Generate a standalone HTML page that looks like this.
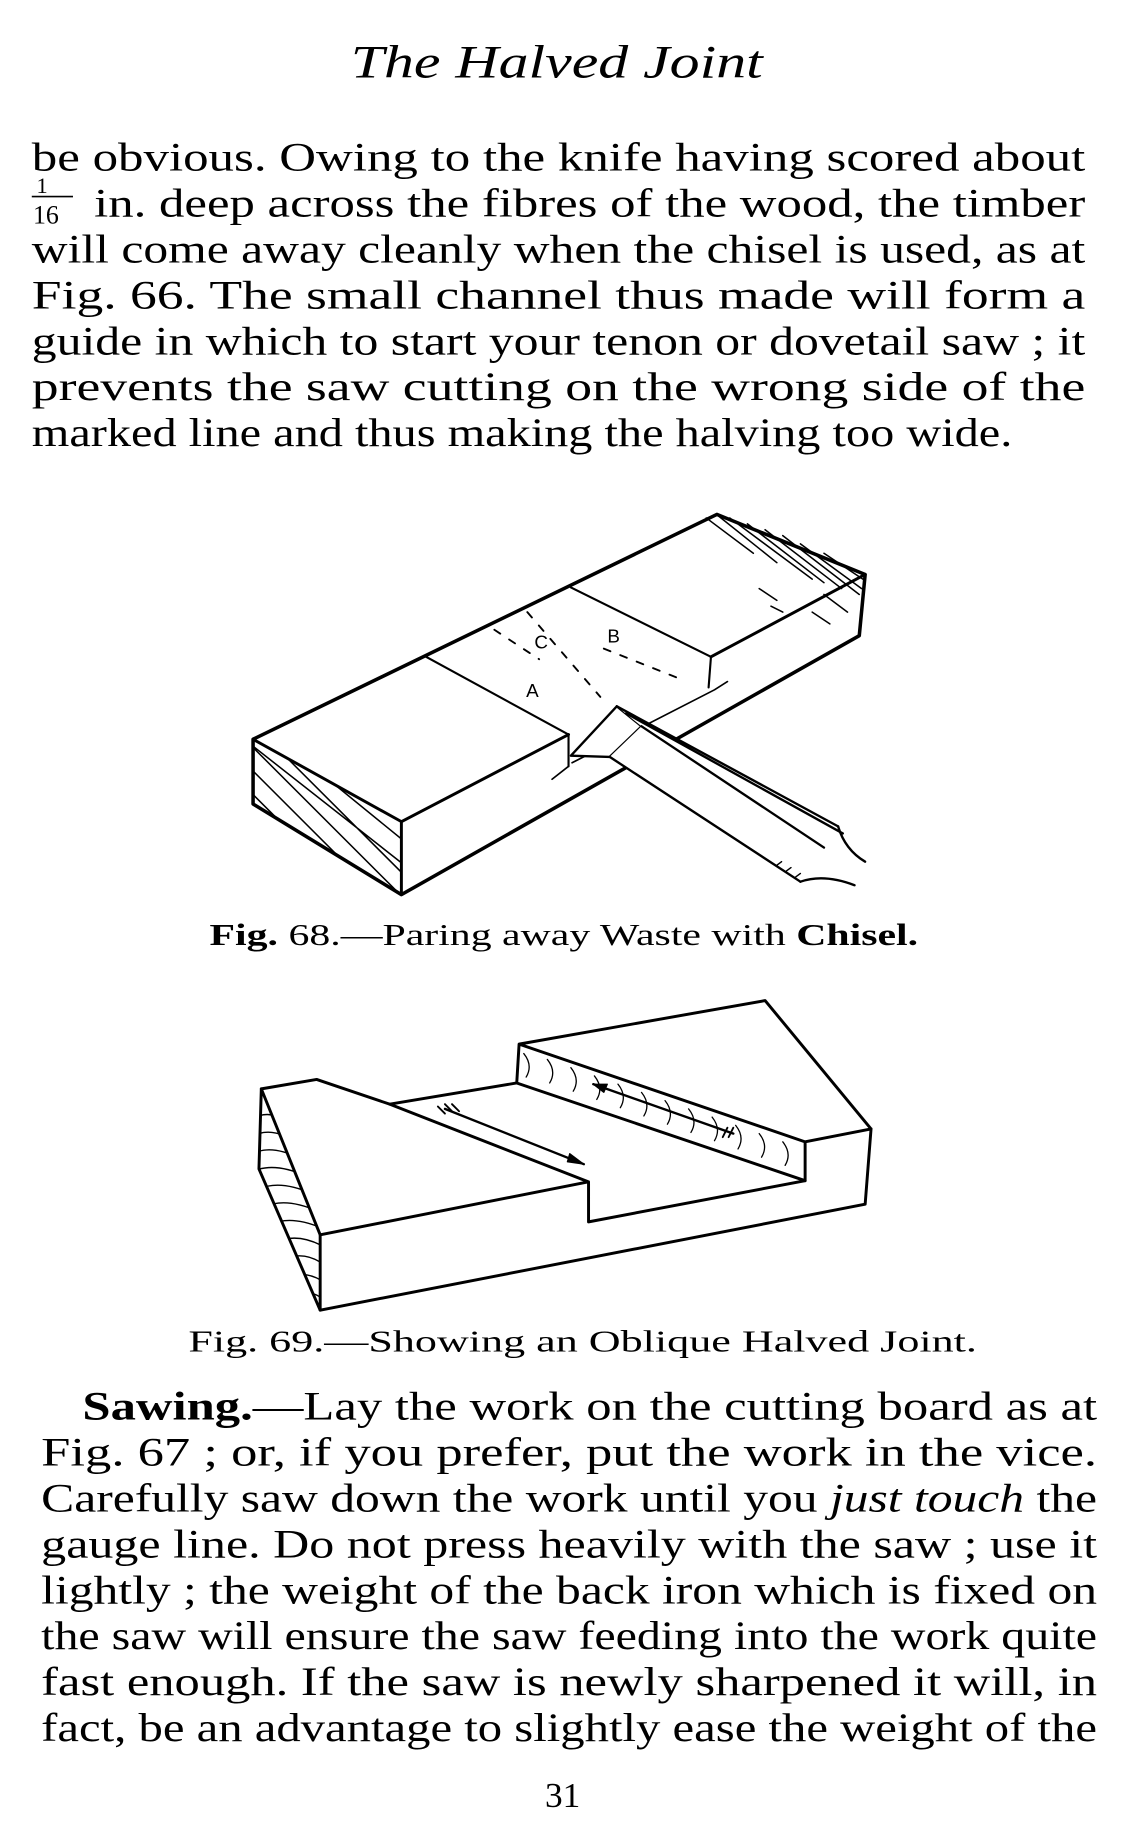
<!DOCTYPE html>
<html><head><meta charset="utf-8"><style>
html,body{margin:0;padding:0;background:#fff;}
svg{display:block;}
text{font-family:"Liberation Serif",serif;fill:#000;}
</style></head><body>
<svg width="1130" height="1834" viewBox="0 0 960 1558" preserveAspectRatio="none" xmlns="http://www.w3.org/2000/svg">
<rect width="960" height="1558" fill="#fff"/>
<text x="298" y="66" font-size="40" font-style="italic" textLength="350" lengthAdjust="spacingAndGlyphs">The Halved Joint</text>

<g font-size="34">
<text x="27" y="145" textLength="895" lengthAdjust="spacingAndGlyphs">be obvious.   Owing to the knife having scored about</text>
<text x="31" y="164" font-size="19">1</text>
<line x1="27" y1="167" x2="62" y2="167" stroke="#000" stroke-width="1.4"/>
<text x="28" y="190" font-size="22">16</text>
<text x="80" y="184" textLength="842" lengthAdjust="spacingAndGlyphs">in. deep across the fibres of the wood, the timber</text>
<text x="27" y="223" textLength="895" lengthAdjust="spacingAndGlyphs">will come away cleanly when the chisel is used, as at</text>
<text x="27" y="262" textLength="895" lengthAdjust="spacingAndGlyphs">Fig. 66.  The small channel thus made will form a</text>
<text x="27" y="301" textLength="895" lengthAdjust="spacingAndGlyphs">guide in which to start your tenon or dovetail saw ; it</text>
<text x="27" y="340" textLength="895" lengthAdjust="spacingAndGlyphs">prevents the saw cutting on the wrong side of the</text>
<text x="27" y="379" textLength="833" lengthAdjust="spacingAndGlyphs">marked line and thus making the halving too wide.</text>
</g>

<defs>
<clipPath id="endf"><polygon points="215,628 341,698 341,760 215,683"/></clipPath>
<clipPath id="endf2"><polygon points="222,925 272,1049 272,1113 220,993"/></clipPath>
<clipPath id="cheek"><polygon points="441,887 684,970 684,1003 439,920"/></clipPath>
</defs>
<g stroke="#000" fill="none" stroke-linecap="round" stroke-linejoin="round">
<g clip-path="url(#endf)" stroke-width="1.3">
<path d="M200,600 L360,760 M200,620 L360,780 M200,640 L360,800 M200,660 L360,820 M210,630 L350,740 M215,610 L350,720 M220,590 L350,700 M200,680 L360,840"/>
</g>
<g stroke-width="1.3">
<path d="M600,440 L640,470 M610,438 L660,478 M620,440 L690,492 M635,445 L700,495 M650,450 L715,500 M665,455 L730,505 M680,462 L732,500 M700,470 L733,492 M645,500 L660,510 M655,515 L665,520 M700,505 L720,520 M690,520 L705,530"/>
</g>
<polygon points="215,628 609,437 735,488 730,540 341,760 215,683" stroke-width="3"/>
<path d="M215,628 L341,698 L341,760" stroke-width="2.5"/>
<path d="M341,698 L483,624 M604,558 L735,488" stroke-width="2.5"/>
<path d="M362,558 L483,624 L483,651 M485,499 L604,558 L602,584" stroke-width="1.8"/>
<path d="M469,662 L483,651 M486,648 L607,586 L618,579" stroke-width="1.4"/>
<path d="M448,520 L510,592 M513,551 L581,578 M420,535 L458,560" stroke-width="1.6" stroke-dasharray="6,9"/>
<!-- chisel -->
<polygon points="485,642 524,600 545,617 518,643" fill="#fff" stroke-width="2"/>
<polygon points="524,600 712,702 716,708 680,749 518,643 545,617" fill="#fff" stroke="none"/>
<path d="M524,600 L712,702 M532,606 L716,708 M518,643 L680,749 M545,617 L700,720" stroke-width="2"/>
<path d="M712,702 Q718,722 735,732 M680,749 Q700,742 726,752" stroke-width="2"/>
<path d="M660,735 l4,-3 M668,740 l4,-3 M676,745 l4,-3" stroke-width="1.2"/>
</g>
<text x="454" y="551" font-size="16" style="font-family:'Liberation Sans',sans-serif">C</text>
<text x="516" y="546" font-size="16" style="font-family:'Liberation Sans',sans-serif">B</text>
<text x="447" y="592" font-size="16" style="font-family:'Liberation Sans',sans-serif">A</text>
<text x="178" y="803" font-size="26" textLength="602" lengthAdjust="spacingAndGlyphs"><tspan font-weight="bold">Fig.</tspan> 68.—Paring away Waste with <tspan font-weight="bold">Chisel.</tspan></text>

<!-- Fig 69 -->
<g stroke="#000" fill="none" stroke-linecap="round" stroke-linejoin="round">
<g clip-path="url(#endf2)" stroke-width="1.2">
<path d="M215,950 q15,-8 30,4 M215,965 q15,-8 35,4 M215,980 q15,-8 40,4 M215,995 q18,-8 45,4 M220,1010 q18,-8 45,4 M225,1025 q18,-8 45,4 M230,1040 q18,-8 45,4 M235,1055 q18,-8 40,4 M240,1070 q18,-8 35,4 M245,1085 q15,-6 30,4 M250,1100 q12,-6 25,4"/>
</g>
<g clip-path="url(#cheek)" stroke-width="1.1">
<path d="M445,895 q8,10 2,20 M465,900 q8,10 2,20 M485,907 q8,10 2,20 M505,914 q8,10 2,20 M525,921 q8,10 2,20 M545,928 q8,10 2,20 M565,935 q8,10 2,20 M585,942 q8,10 2,20 M605,949 q8,10 2,20 M625,956 q8,10 2,20 M645,963 q8,10 2,20 M665,970 q8,10 2,20"/>
</g>
<path d="M222,925 L269,917 L331,938 L500,1004 L500,1038 L684,1003 M272,1049 L500,1004" stroke-width="2.5"/>
<path d="M222,925 L272,1049 L272,1113 L220,993 Z" stroke-width="2.5"/>
<path d="M272,1113 L735,1023 L740,959 L684,970 L684,1003 M331,938 L439,920 L441,887 L650,850 L740,959 M441,887 L684,970 M439,920 L684,1003" stroke-width="2.5"/>
<path d="M378,942 L496,989" stroke-width="2"/>
<polygon points="496,989 484,980 482,987" fill="#000" stroke-width="1"/>
<path d="M378,938 l6,6 M384,938 l6,6 M372,940 l6,6" stroke-width="1.6"/>
<path d="M623,963 L504,921" stroke-width="2"/>
<polygon points="504,921 516,921 513,928" fill="#000" stroke-width="1"/>
<path d="M618,958 l-4,8 M623,958 l-4,8" stroke-width="1.6"/>
</g>
<text x="160" y="1148" font-size="26" textLength="670" lengthAdjust="spacingAndGlyphs">Fig. 69.—Showing an Oblique Halved Joint.</text>

<g font-size="34">
<text x="70" y="1206" textLength="862" lengthAdjust="spacingAndGlyphs"><tspan font-weight="bold">Sawing.</tspan>—Lay the work on the cutting board as at</text>
<text x="35" y="1245" textLength="897" lengthAdjust="spacingAndGlyphs">Fig. 67 ;  or, if you prefer, put the work in the vice.</text>
<text x="35" y="1284" textLength="897" lengthAdjust="spacingAndGlyphs">Carefully saw down the work until you <tspan font-style="italic">just touch</tspan> the</text>
<text x="35" y="1323" textLength="897" lengthAdjust="spacingAndGlyphs">gauge line.  Do not press heavily with the saw ;  use it</text>
<text x="35" y="1362" textLength="897" lengthAdjust="spacingAndGlyphs">lightly ;  the weight of the back iron which is fixed on</text>
<text x="35" y="1401" textLength="897" lengthAdjust="spacingAndGlyphs">the saw will ensure the saw feeding into the work quite</text>
<text x="35" y="1440" textLength="897" lengthAdjust="spacingAndGlyphs">fast enough.  If the saw is newly sharpened it will, in</text>
<text x="35" y="1479" textLength="897" lengthAdjust="spacingAndGlyphs">fact, be an advantage to slightly ease the weight of the</text>
</g>
<text x="463" y="1535" font-size="30">31</text>
</svg>
</body></html>
